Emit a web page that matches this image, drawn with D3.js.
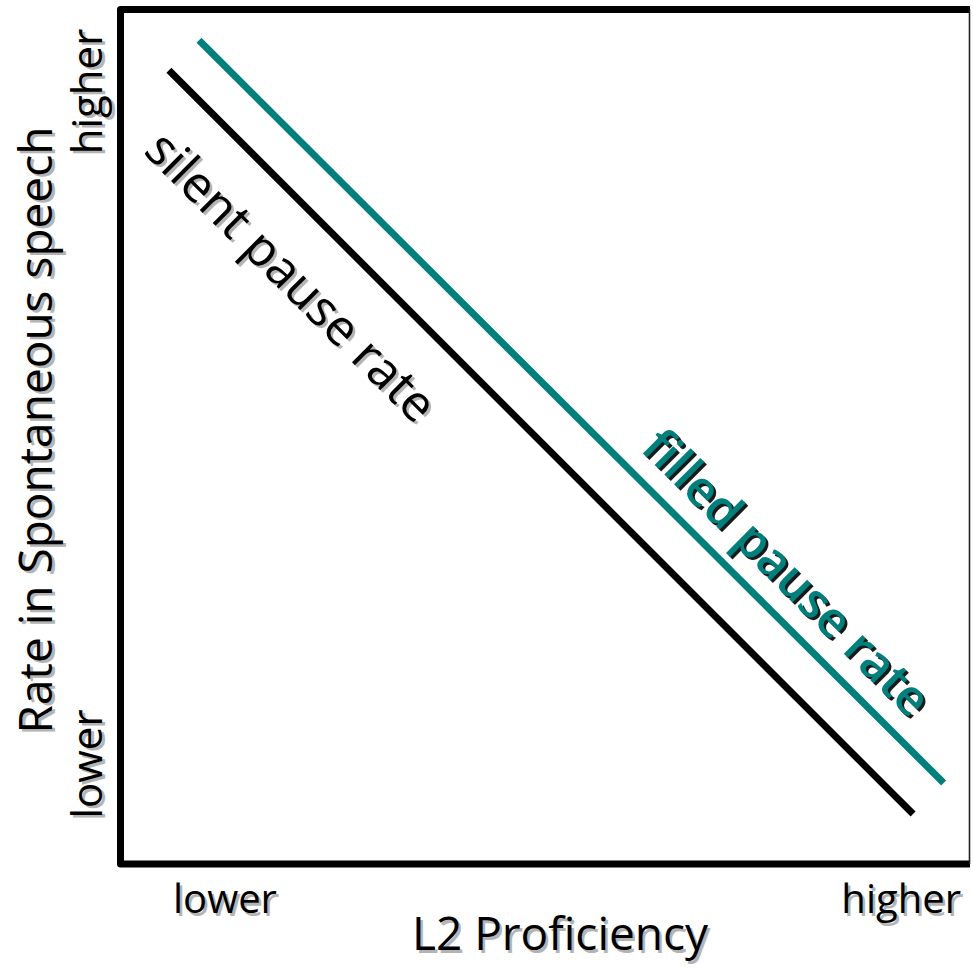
<!DOCTYPE html>
<html>
<head>
<meta charset="utf-8">
<script src="https://cdn.jsdelivr.net/npm/d3@7"></script>
<style>
  html, body { margin: 0; padding: 0; background: #fff; }
  svg { display: block; }
  text { font-family: "Open Sans", "Noto Sans", sans-serif; }
</style>
</head>
<body>
<div id="chart"></div>
<script>
// values (0 = lower, 1 = higher)
var xTickValues = [0.123, 0.919];
var xTickLabels = ["lower", "higher"];
var yTickValues = [0.117, 0.904];
var yTickLabels = ["lower", "higher"];
var xTitle = "L2 Proficiency";
var yTitle = "Rate in Spontaneous speech";

var seriesNames = ["silent pause rate", "filled pause rate"];
var silentX = [0.057, 0.933];
var silentY = [0.929, 0.0585];
var filledX = [0.0924, 0.969];
var filledY = [0.964, 0.0948];

var width = 973, height = 968;

var x = d3.scaleLinear().domain([0, 1]).range([120.5, 970]);
var y = d3.scaleLinear().domain([0, 1]).range([864, 9.5]);

var svg = d3.select("#chart").append("svg")
  .attr("width", width)
  .attr("height", height);

// text with a little drop shadow, like the original slide
function shadowText(parent, px, py, angle, str, opts) {
  var dx = opts.dx == null ? 2.5 : opts.dx;
  var dy = opts.dy == null ? 2.5 : opts.dy;
  [[dx, dy, opts.shadow], [0, 0, opts.fill]].forEach(function(s) {
    parent.append("text")
      .attr("transform", "translate(" + (px + s[0]) + "," + (py + s[1]) + ") rotate(" + angle + ")")
      .attr("text-anchor", opts.anchor || "middle")
      .attr("font-size", opts.size)
      .attr("font-weight", opts.weight || "normal")
      .attr("fill", s[2])
      .text(str);
  });
}

// frame: heavy left/top/bottom, thin right
var frame = svg.append("g");
frame.append("path")
  .attr("d", "M" + x(1) + "," + y(1) + " L" + x(0) + "," + y(1) + " L" + x(0) + "," + y(0) + " L" + x(1) + "," + y(0))
  .attr("fill", "none")
  .attr("stroke", "#000")
  .attr("stroke-width", 7)
  .attr("stroke-linejoin", "round");
frame.append("line")
  .attr("x1", x(1) - 0.5).attr("x2", x(1) - 0.5)
  .attr("y1", y(1)).attr("y2", y(0))
  .attr("stroke", "#222")
  .attr("stroke-width", 1.6);

var series = [
  { name: seriesNames[0], xs: silentX, ys: silentY, color: "#000", shadow: "#b4b4b4", weight: "normal", size: 50, t: 0.221, off: 77 },
  { name: seriesNames[1], xs: filledX, ys: filledY, color: "#007f7d", shadow: "#1a1a1a", weight: 600, size: 49, t: 0.753, off: -21 }
];

var line = d3.line()
  .x(function(d) { return x(d[0]); })
  .y(function(d) { return y(d[1]); });

series.forEach(function(s) {
  var pts = d3.zip(s.xs, s.ys);
  svg.append("path")
    .attr("d", line(pts))
    .attr("fill", "none")
    .attr("stroke", s.color)
    .attr("stroke-width", 7);

  // label sits along the line, pushed off to one side
  var x0 = x(s.xs[0]), y0 = y(s.ys[0]), x1 = x(s.xs[1]), y1 = y(s.ys[1]);
  var len = Math.sqrt((x1 - x0) * (x1 - x0) + (y1 - y0) * (y1 - y0));
  var ux = (x1 - x0) / len, uy = (y1 - y0) / len;
  var angle = Math.atan2(y1 - y0, x1 - x0) * 180 / Math.PI;
  var px = x0 + (x1 - x0) * s.t - uy * s.off;
  var py = y0 + (y1 - y0) * s.t + ux * s.off;
  shadowText(svg, px, py, angle, s.name, { size: s.size, fill: s.color, shadow: s.shadow, weight: s.weight });
});

// tick labels
var labels = svg.append("g");
xTickValues.forEach(function(v, i) {
  shadowText(labels, x(v), 913, 0, xTickLabels[i], { size: 40, fill: "#000", shadow: "#b4b4b4" });
});
yTickValues.forEach(function(v, i) {
  shadowText(labels, 102, y(v), -90, yTickLabels[i], { size: 42, fill: "#000", shadow: "#b4b4b4" });
});

// axis titles
shadowText(labels, 560, 950, 0, xTitle, { size: 46, fill: "#000", shadow: "#b4b4b4" });
shadowText(labels, 52, 430, -90, yTitle, { size: 46, fill: "#000", shadow: "#b4b4b4" });
</script>
</body>
</html>
